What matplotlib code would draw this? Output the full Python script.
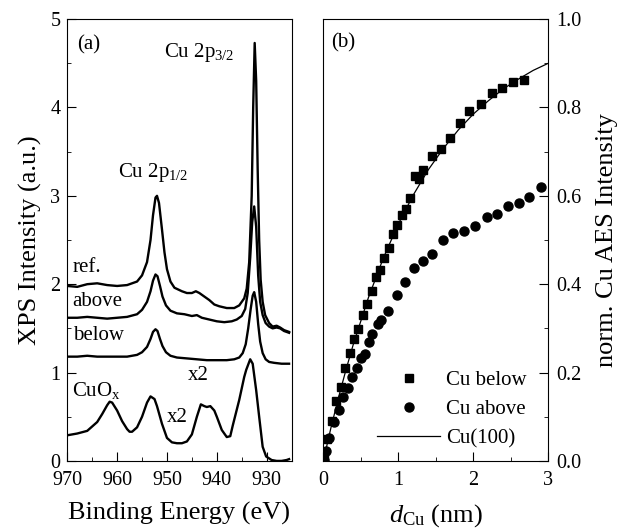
import numpy as np
import matplotlib
matplotlib.use("Agg")
import matplotlib.pyplot as plt
from matplotlib.ticker import MultipleLocator

plt.rcParams["font.family"] = ["Liberation Serif", "DejaVu Serif"]
plt.rcParams["mathtext.fontset"] = "custom"
plt.rcParams["mathtext.rm"] = "Liberation Serif"
plt.rcParams["mathtext.it"] = "Liberation Serif:italic"

# =========================
# (a) XPS spectra
# =========================
ref_E = [970, 968, 966, 964, 962, 960, 958, 956, 955, 954, 953.3, 952.8, 952.3, 952.0,
         951.6, 951.0, 950.5, 950.0, 949.3, 948.5, 947, 946, 945, 944.2, 943.5, 942.5,
         941.5, 940.5, 939.5, 938, 936.5, 935.5, 934.5, 934, 933.5, 933.0, 932.7, 932.4,
         932.1, 931.8, 931.5, 931.2, 930.8, 930.3, 929.5, 928.8, 928.0, 927.3, 926.5, 925.5]
ref_I = [1.98, 1.97, 2.00, 2.01, 1.99, 1.98, 1.99, 2.03, 2.10, 2.25, 2.50, 2.78, 2.98, 3.00,
         2.92, 2.62, 2.36, 2.17, 2.03, 1.96, 1.92, 1.90, 1.90, 1.92, 1.90, 1.86,
         1.82, 1.77, 1.75, 1.73, 1.73, 1.76, 1.84, 1.95, 2.25, 3.00, 4.00, 4.73,
         4.30, 3.30, 2.50, 2.05, 1.80, 1.65, 1.56, 1.52, 1.53, 1.51, 1.48, 1.46]

above_E = [970, 968, 966, 964, 962, 960, 958, 956, 955, 954, 953.3, 952.8, 952.3, 951.9,
           951.4, 950.9, 950.2, 949.3, 948, 946.5, 945, 944, 943, 941.5, 940, 938.5, 937,
           936, 935, 934.3, 933.8, 933.3, 932.9, 932.5, 932.1, 931.7, 931.3, 930.8, 930.2,
           929.5, 928.8, 928, 927.3, 926.5, 925.5]
above_I = [1.62, 1.62, 1.63, 1.62, 1.61, 1.62, 1.63, 1.66, 1.71, 1.80, 1.92, 2.04, 2.11, 2.09,
           1.98, 1.86, 1.76, 1.70, 1.67, 1.66, 1.64, 1.65, 1.62, 1.60, 1.58, 1.57, 1.58,
           1.60, 1.64, 1.72, 1.90, 2.30, 2.70, 2.88, 2.65, 2.10, 1.80, 1.65, 1.56,
           1.52, 1.50, 1.51, 1.50, 1.47, 1.45]

below_E = [970, 968, 966, 964, 962, 960, 958, 956, 955, 954, 953.3, 952.8, 952.3, 951.9,
           951.4, 950.9, 950.2, 949.3, 948, 946, 944, 942, 940, 938, 936.5, 935.5, 934.8,
           934.2, 933.7, 933.2, 932.8, 932.5, 932.1, 931.7, 931.3, 930.8, 930.2, 929.5,
           928.5, 927, 925.5]
below_I = [1.18, 1.18, 1.19, 1.18, 1.18, 1.18, 1.18, 1.20, 1.23, 1.29, 1.38, 1.46, 1.49, 1.47,
           1.38, 1.30, 1.23, 1.19, 1.17, 1.16, 1.15, 1.14, 1.14, 1.14, 1.15, 1.17, 1.22,
           1.32, 1.50, 1.72, 1.87, 1.91, 1.80, 1.55, 1.35, 1.22, 1.15, 1.12,
           1.11, 1.10, 1.10]

cuox_E = [970, 968, 966, 964, 963, 962, 961.5, 961, 960, 959, 958, 957.5, 957, 956, 955,
          954, 953.3, 952.5, 952, 951, 950, 949, 948, 947, 946, 945, 944, 943.2, 942.5,
          942, 941.3, 940.5, 940, 939, 938, 937.3, 936.8, 935.5, 934.5, 934.1, 933.3,
          932.8, 932.1, 931.5, 930.8, 930.1, 929, 928, 927, 926, 925.5]
cuox_I = [0.29, 0.31, 0.34, 0.44, 0.53, 0.63, 0.67, 0.66, 0.57, 0.45, 0.36, 0.33, 0.33, 0.38, 0.50,
          0.66, 0.73, 0.70, 0.62, 0.42, 0.26, 0.21, 0.20, 0.20, 0.22, 0.30, 0.50, 0.64, 0.62,
          0.61, 0.62, 0.57, 0.50, 0.35, 0.27, 0.28, 0.40, 0.69, 0.95, 1.03, 1.15,
          1.10, 0.80, 0.50, 0.16, 0.05, 0.01, 0.00, 0.00, 0.01, 0.02]

# =========================
# (b) AES intensity vs. Cu thickness
# =========================
below_d = [0.01, 0.05, 0.12, 0.17, 0.23, 0.29, 0.35, 0.41, 0.467, 0.525, 0.587, 0.645,
           0.698, 0.756, 0.813, 0.872, 0.925, 0.987, 1.045, 1.103, 1.16, 1.219, 1.276,
           1.333, 1.449, 1.565, 1.685, 1.823, 1.943, 2.107, 2.249, 2.387, 2.533, 2.676]
below_aes = [0.005, 0.05, 0.09, 0.135, 0.168, 0.21, 0.244, 0.276, 0.298, 0.331, 0.355, 0.385,
             0.417, 0.433, 0.46, 0.481, 0.513, 0.534, 0.556, 0.570, 0.596, 0.645, 0.637,
             0.658, 0.690, 0.706, 0.732, 0.765, 0.792, 0.808, 0.833, 0.844, 0.857, 0.863]

above_d = [0.009, 0.036, 0.08, 0.143, 0.213, 0.267, 0.325, 0.387, 0.445, 0.503, 0.556,
           0.609, 0.645, 0.733, 0.769, 0.859, 0.979, 1.093, 1.213, 1.325, 1.445, 1.592,
           1.733, 1.88, 2.023, 2.179, 2.32, 2.467, 2.607, 2.747, 2.898]
above_aes = [0.003, 0.023, 0.051, 0.088, 0.115, 0.144, 0.164, 0.190, 0.211, 0.233, 0.241,
             0.270, 0.287, 0.309, 0.320, 0.340, 0.375, 0.405, 0.436, 0.453, 0.469, 0.500,
             0.516, 0.521, 0.532, 0.551, 0.560, 0.577, 0.584, 0.598, 0.619]

cu100_d = [0, 0.1, 0.2, 0.3, 0.4, 0.6, 0.8, 1.0, 1.2, 1.4, 1.6, 1.8, 2.0, 2.2, 2.4, 2.6, 2.8, 3.0]
cu100_aes = [0, 0.074, 0.142, 0.205, 0.264, 0.369, 0.459, 0.536, 0.602, 0.659, 0.707,
             0.749, 0.785, 0.815, 0.842, 0.864, 0.884, 0.900]

# =========================
# Plot
# =========================
fig = plt.figure(figsize=(6.23, 5.31), dpi=100)
ax1 = fig.add_axes([0.108, 0.132, 0.360, 0.832])
ax2 = fig.add_axes([0.519, 0.132, 0.361, 0.832])

lw = 1.7
for E, I in [(ref_E, ref_I), (above_E, above_I), (below_E, below_I), (cuox_E, cuox_I)]:
    ax1.plot(E, I, color="black", lw=lw)

ax1.set_xlim(970, 925)
ax1.set_ylim(0, 5)
ax1.xaxis.set_major_locator(MultipleLocator(10))
ax1.xaxis.set_minor_locator(MultipleLocator(5))
ax1.yaxis.set_major_locator(MultipleLocator(1))
ax1.yaxis.set_minor_locator(MultipleLocator(0.5))
ax1.tick_params(which="both", direction="in", top=False, right=False, labelsize=14.5)
ax1.tick_params(which="major", length=6.5)
ax1.tick_params(which="minor", length=3)
ax1.tick_params(axis="x", pad=7)
ax1.tick_params(axis="y", pad=5)
ax1.set_xlabel("Binding Energy (eV)", fontsize=19, labelpad=9)
ax1.set_ylabel("XPS Intensity (a.u.)", fontsize=19, labelpad=6)

fs = 15
ax1.text(968.1, 4.71, "(a)", fontsize=fs, ha="left", va="center")
ax1.text(950.5, 4.62, r"Cu 2p$_{\mathregular{3/2}}$", fontsize=fs, ha="left", va="center")
ax1.text(959.9, 3.26, r"Cu 2p$_{\mathregular{1/2}}$", fontsize=fs, ha="left", va="center")
ax1.text(968.9, 2.19, "ref.", fontsize=fs, ha="left", va="center")
ax1.text(969.1, 1.80, "above", fontsize=fs, ha="left", va="center")
ax1.text(968.9, 1.42, "below", fontsize=fs, ha="left", va="center")
ax1.text(969.1, 0.80, r"CuO$_{\mathregular{x}}$", fontsize=fs, ha="left", va="center")
ax1.text(945.9, 0.97, "x2", fontsize=fs, ha="left", va="center")
ax1.text(950.1, 0.49, "x2", fontsize=fs, ha="left", va="center")

ax2.plot(below_d, below_aes, "s", color="black", ms=6, label="Cu below")
ax2.plot(above_d, above_aes, "o", color="black", ms=6.5, label="Cu above")
ax2.plot(cu100_d, cu100_aes, "-", color="black", lw=0.9, label="Cu(100)")

ax2.set_xlim(0, 3)
ax2.set_ylim(0, 1.0)
ax2.xaxis.set_major_locator(MultipleLocator(1))
ax2.xaxis.set_minor_locator(MultipleLocator(0.5))
ax2.yaxis.set_major_locator(MultipleLocator(0.2))
ax2.yaxis.set_minor_locator(MultipleLocator(0.1))
ax2.yaxis.tick_right()
ax2.yaxis.set_label_position("right")
ax2.tick_params(which="both", direction="in", top=False, left=False, labelsize=14.5)
ax2.tick_params(which="major", length=6.5)
ax2.tick_params(which="minor", length=3)
ax2.tick_params(axis="x", pad=7)
ax2.tick_params(axis="y", pad=6)
ax2.set_xticks([0, 1, 2, 3])
ax2.set_xticklabels(["0", "1", "2", "3"])
ax2.set_xlabel(r"$d_{\mathregular{Cu}}$ (nm)", fontsize=19, labelpad=9)
ax2.set_ylabel("norm. Cu AES Intensity", fontsize=19, labelpad=10)
ax2.text(0.11, 0.946, "(b)", fontsize=fs, ha="left", va="center")

ax2.legend(loc="lower right", bbox_to_anchor=(0.96, 0.0), frameon=False, fontsize=15,
           handlelength=3.0, handletextpad=0.3, labelspacing=0.45, borderaxespad=0.2)

fig.savefig("out.png", dpi=100)
